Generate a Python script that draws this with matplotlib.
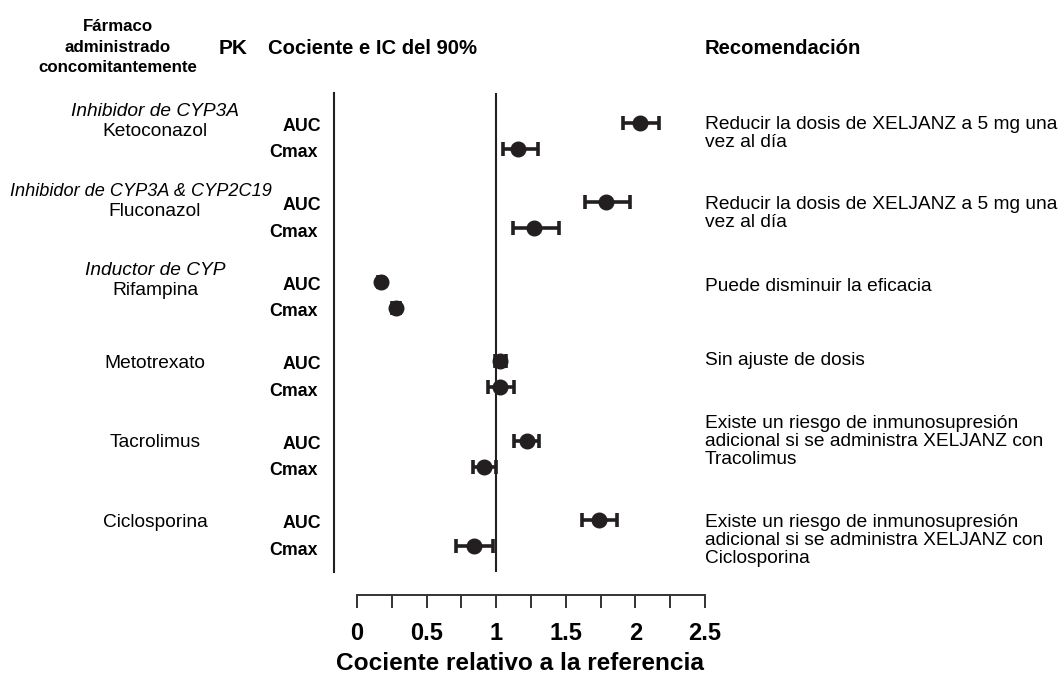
import numpy as np
import matplotlib
matplotlib.use("Agg")
import matplotlib.pyplot as plt
from matplotlib.transforms import blended_transform_factory

plt.rcParams['font.family'] = ['Liberation Sans', 'DejaVu Sans']

# data
drugs = ["Ketoconazol", "Fluconazol", "Rifampina", "Metotrexato", "Tacrolimus", "Ciclosporina"]
classes = ["Inhibidor de CYP3A", "Inhibidor de CYP3A & CYP2C19", "Inductor de CYP", "", "", ""]
auc = [2.03, 1.79, 0.17, 1.03, 1.22, 1.74]
auc_lo = [1.91, 1.64, 0.15, 0.99, 1.13, 1.62]
auc_hi = [2.17, 1.96, 0.19, 1.07, 1.31, 1.87]
cmax = [1.16, 1.27, 0.28, 1.03, 0.91, 0.84]
cmax_lo = [1.05, 1.12, 0.25, 0.94, 0.83, 0.71]
cmax_hi = [1.30, 1.45, 0.31, 1.13, 1.00, 0.98]
recs = [
    "Reducir la dosis de XELJANZ a 5 mg una\nvez al día",
    "Reducir la dosis de XELJANZ a 5 mg una\nvez al día",
    "Puede disminuir la eficacia",
    "Sin ajuste de dosis",
    "Existe un riesgo de inmunosupresión\nadicional si se administra XELJANZ con\nTracolimus",
    "Existe un riesgo de inmunosupresión\nadicional si se administra XELJANZ con\nCiclosporina",
]
tick_vals = [0, 0.25, 0.5, 0.75, 1, 1.25, 1.5, 1.75, 2, 2.25, 2.5]
tick_labels = ["0", "", "0.5", "", "1", "", "1.5", "", "2", "", "2.5"]

# layout
W, H = 1063, 680
ink = "#231f20"
cmax_off = 0.327
rec_off = [0.138, 0.142, 0.06, -0.01, 0.01, 0.255]

fig = plt.figure(figsize=(W / 100, H / 100), dpi=100)
ax = fig.add_axes([334 / W, 1 - 572 / H, 371 / W, 479 / H])

y_auc = np.arange(len(drugs), dtype=float)
y_cmax = y_auc + cmax_off

for y, v, lo, hi in [(y_auc, auc, auc_lo, auc_hi), (y_cmax, cmax, cmax_lo, cmax_hi)]:
    v = np.array(v)
    err = np.vstack([v - np.array(lo), np.array(hi) - v])
    ax.errorbar(v, y, xerr=err, fmt='o', color=ink, ms=10.5, elinewidth=2.6,
                capsize=4.8, capthick=2.6)

ax.axvline(1, color=ink, lw=1.5)
ax.set_xlim(-0.165, 2.5)
ax.set_ylim(5.648, -0.377)
ax.set_yticks([])
for s in ['top', 'right']:
    ax.spines[s].set_visible(False)
ax.spines['left'].set_linewidth(1.5)
ax.spines['left'].set_color(ink)
ax.spines['bottom'].set_position(('outward', 16.5))
ax.spines['bottom'].set_bounds(0, 2.5)
ax.spines['bottom'].set_linewidth(1.4)
ax.spines['bottom'].set_color("#333333")
ax.set_xticks(tick_vals)
ax.set_xticklabels(tick_labels, fontsize=17, fontweight='bold')
ax.tick_params(axis='x', length=9.4, width=1.4, color="#333333", pad=10)
ax.set_xlabel("Cociente relativo a la referencia", fontsize=17.6, fontweight='bold', labelpad=5)

tr = blended_transform_factory(fig.transFigure, ax.transData)
for i in range(len(drugs)):
    ya = y_auc[i]
    if classes[i]:
        long_name = len(classes[i]) > 20
        ax.text((141 if long_name else 155) / W, ya - 0.142, classes[i], transform=tr,
                ha='center', va='center', fontsize=13.1 if long_name else 13.8, style='italic')
        ax.text(155 / W, ya + 0.11, drugs[i], transform=tr, ha='center', va='center', fontsize=13.8)
    else:
        ax.text(155 / W, ya + 0.025, drugs[i], transform=tr, ha='center', va='center', fontsize=13.8)
    ax.text(321 / W, ya + 0.04, "AUC", transform=tr, ha='right', va='center',
            fontsize=12.8, fontweight='bold')
    ax.text(318 / W, y_cmax[i] + 0.05, "Cmax", transform=tr, ha='right', va='center',
            fontsize=12.8, fontweight='bold')
    ax.text(705 / W, ya + rec_off[i], recs[i], transform=tr, ha='left', va='center',
            fontsize=13.8, linespacing=1.08)

# column headers
fig.text(118 / W, 1 - 47 / H, "Fármaco\nadministrado\nconcomitantemente", ha='center', va='center',
         fontsize=12.2, fontweight='bold', linespacing=1.45)
fig.text(233 / W, 1 - 48 / H, "PK", ha='center', va='center', fontsize=15, fontweight='bold')
fig.text(373 / W, 1 - 48 / H, "Cociente e IC del 90%", ha='center', va='center',
         fontsize=14.6, fontweight='bold')
fig.text(705 / W, 1 - 48 / H, "Recomendación", ha='left', va='center',
         fontsize=14.6, fontweight='bold')

fig.savefig("out.png", dpi=100)
